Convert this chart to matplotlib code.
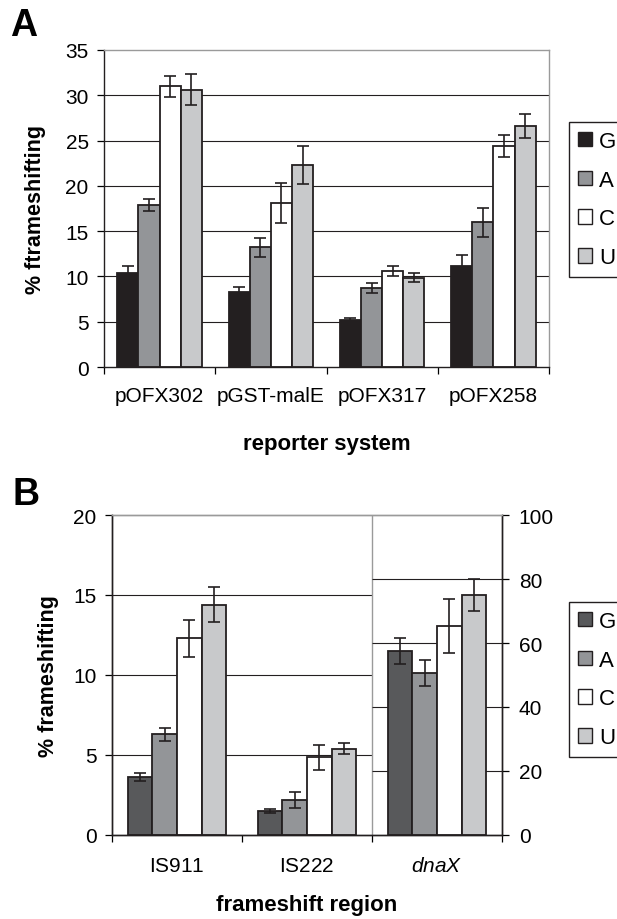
import numpy as np
import matplotlib
matplotlib.use("Agg")
import matplotlib.pyplot as plt
from matplotlib.patches import Patch

plt.rcParams['font.family'] = ['Liberation Sans', 'DejaVu Sans']
plt.rcParams['mathtext.fontset'] = 'custom'
plt.rcParams['mathtext.rm'] = 'Liberation Sans'
plt.rcParams['mathtext.it'] = 'Liberation Sans:italic'

# ---- data, panel A
categories_a = ['pOFX302', 'pGST-malE', 'pOFX317', 'pOFX258']
nucleotides = ['G', 'A', 'C', 'U']
a_g = [10.4, 8.3, 5.2, 11.2]
a_a = [17.9, 13.2, 8.75, 16.0]
a_c = [31.0, 18.1, 10.6, 24.4]
a_u = [30.6, 22.3, 9.85, 26.6]
a_g_err = [0.7, 0.5, 0.2, 1.2]
a_a_err = [0.7, 1.0, 0.55, 1.6]
a_c_err = [1.15, 2.2, 0.6, 1.2]
a_u_err = [1.7, 2.1, 0.5, 1.3]

# ---- data, panel B (IS911 / IS222 on left axis, dnaX on right axis)
categories_b = ['IS$\\mathit{911}$', 'IS$\\mathit{222}$', '$\\mathit{dnaX}$']
b_g = [3.6, 1.5]
b_a = [6.3, 2.2]
b_c = [12.3, 4.85]
b_u = [14.4, 5.4]
b_g_err = [0.25, 0.15]
b_a_err = [0.4, 0.5]
b_c_err = [1.15, 0.8]
b_u_err = [1.1, 0.35]
dnax_vals = [57.5, 50.6, 65.3, 74.9]
dnax_err = [4.0, 4.1, 8.3, 5.0]

colors_a = ['#231f20', '#939598', '#ffffff', '#c8c9cb']
colors_b = ['#58595b', '#939598', '#ffffff', '#c8c9cb']
edge = '#231f20'
frame_gray = '#9a9a9a'
w = 0.19
offsets = (np.arange(4) - 1.5) * w
tick_fs = 15
xlabel_fs = 16
ylabel_fs = 15.5
bar_lw = 1.3

fig = plt.figure(figsize=(6.17, 9.2), dpi=100)


def legend_at(handles, top_px):
    fig.legend(handles, nucleotides, loc='upper left',
               bbox_to_anchor=(569 / 617, 1 - top_px / 920),
               bbox_transform=fig.transFigure, borderaxespad=0, fontsize=16,
               handlelength=0.62, handleheight=0.62, handletextpad=0.32,
               labelspacing=0.8, borderpad=0.4, fancybox=False,
               edgecolor='#231f20', framealpha=1)


# ================= panel A
ax = fig.add_axes([104 / 617, 1 - 368 / 920, 445 / 617, 317 / 920])
x = np.arange(len(categories_a))
for yv in range(5, 35, 5):
    ax.hlines(yv, -0.5, len(categories_a) - 0.5, color='#231f20', lw=0.8, zorder=0)
series_a = [(a_g, a_g_err), (a_a, a_a_err), (a_c, a_c_err), (a_u, a_u_err)]
for i, (vals, errs) in enumerate(series_a):
    ax.bar(x + offsets[i], vals, w, color=colors_a[i], edgecolor=edge, lw=bar_lw, zorder=2)
    ax.errorbar(x + offsets[i], vals, yerr=errs, fmt='none', ecolor='#231f20',
                elinewidth=1.2, capsize=4.5, capthick=1.2, zorder=3)
ax.set_xlim(-0.5, len(categories_a) - 0.5)
ax.set_ylim(0, 35)
ax.set_yticks(range(0, 36, 5))
ax.set_xticks(x)
ax.set_xticklabels(categories_a)
ax.set_xticks(np.arange(-0.5, len(categories_a)), minor=True)
ax.tick_params(axis='x', which='major', length=0, pad=14, labelsize=tick_fs)
ax.tick_params(axis='x', which='minor', length=5, width=0.9, direction='out')
ax.tick_params(axis='y', length=5, width=0.9, pad=6, labelsize=tick_fs)
for s in ['top', 'right']:
    ax.spines[s].set_color(frame_gray)
for s in ['left', 'bottom']:
    ax.spines[s].set_color('#231f20')
for s in ax.spines.values():
    s.set_linewidth(1.0)
ax.set_ylabel('% ftrameshifting', fontsize=ylabel_fs, fontweight='bold', labelpad=14)
ax.set_xlabel('reporter system', fontsize=xlabel_fs, fontweight='bold', labelpad=20)

legend_at([Patch(facecolor=c, edgecolor=edge, lw=1.0) for c in colors_a], 123)
fig.text(10 / 617, 1 - 26 / 920, 'A', fontsize=27, fontweight='bold', va='center', ha='left')

# ================= panel B
axb = fig.add_axes([112 / 617, 1 - 836 / 920, 390 / 617, 320 / 920])
ax2 = axb.twinx()
xb = np.arange(len(categories_b))
for yv in [5, 10, 15]:
    axb.hlines(yv, -0.5, 1.5, color='#231f20', lw=0.8, zorder=0)
for yv in [20, 40, 60, 80]:
    ax2.hlines(yv, 1.5, 2.5, color='#231f20', lw=0.8, zorder=0)
axb.axvline(1.5, color=frame_gray, lw=1.0, zorder=1)
series_b = [(b_g, b_g_err), (b_a, b_a_err), (b_c, b_c_err), (b_u, b_u_err)]
for i, (vals, errs) in enumerate(series_b):
    axb.bar(xb[:2] + offsets[i], vals, w, color=colors_b[i], edgecolor=edge, lw=bar_lw, zorder=2)
    axb.errorbar(xb[:2] + offsets[i], vals, yerr=errs, fmt='none', ecolor='#231f20',
                 elinewidth=1.2, capsize=4.5, capthick=1.2, zorder=3)
for i in range(4):
    ax2.bar(xb[2] + offsets[i], dnax_vals[i], w, color=colors_b[i], edgecolor=edge, lw=bar_lw, zorder=2)
    ax2.errorbar(xb[2] + offsets[i], dnax_vals[i], yerr=dnax_err[i], fmt='none', ecolor='#231f20',
                 elinewidth=1.2, capsize=4.5, capthick=1.2, zorder=3)
axb.set_xlim(-0.5, 2.5)
axb.set_ylim(0, 20)
ax2.set_ylim(0, 100)
axb.set_yticks(range(0, 21, 5))
ax2.set_yticks(range(0, 101, 20))
axb.set_xticks(xb)
axb.set_xticklabels(categories_b)
axb.set_xticks(np.arange(-0.5, len(categories_b)), minor=True)
axb.tick_params(axis='x', which='major', length=0, pad=15, labelsize=tick_fs)
axb.tick_params(axis='x', which='minor', length=5, width=0.9, direction='out')
axb.tick_params(axis='y', length=5, width=0.9, pad=6, labelsize=tick_fs)
ax2.tick_params(axis='y', length=5, width=0.9, pad=7, labelsize=tick_fs)
for a in (axb, ax2):
    a.spines['top'].set_color(frame_gray)
    for s in ['left', 'bottom', 'right']:
        a.spines[s].set_color('#231f20')
    for s in a.spines.values():
        s.set_linewidth(1.0)
axb.set_ylabel('% frameshifting', fontsize=ylabel_fs, fontweight='bold', labelpad=10)
axb.set_xlabel('frameshift region', fontsize=xlabel_fs, fontweight='bold', labelpad=14)

legend_at([Patch(facecolor=c, edgecolor=edge, lw=1.0) for c in colors_b], 603)
fig.text(12 / 617, 1 - 495 / 920, 'B', fontsize=27, fontweight='bold', va='center', ha='left')

fig.savefig('out.png', dpi=100)
